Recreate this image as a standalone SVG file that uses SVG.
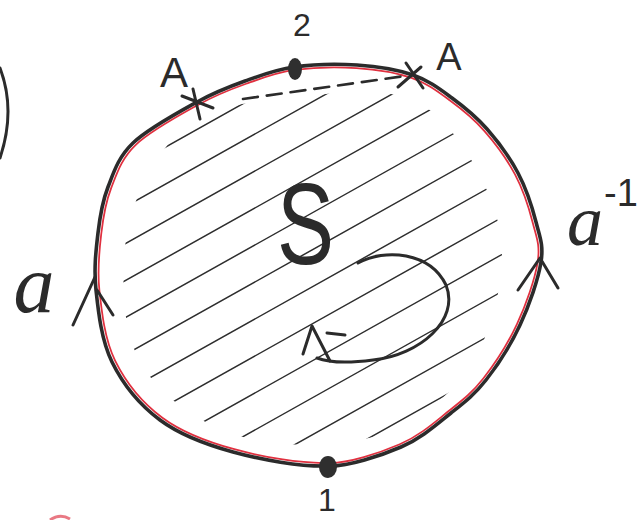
<svg xmlns="http://www.w3.org/2000/svg" width="638" height="520" viewBox="0 0 638 520">
<style>
.ink{fill:none;stroke:#2b2b2b;stroke-linecap:round;stroke-linejoin:round}
.bnd{stroke-width:3.6}
.red{fill:none;stroke:#e0303f;stroke-width:1.8;stroke-linecap:round}
.hatch{stroke:#2e2e2e;stroke-width:1.5;stroke-linecap:round}
.lbl{fill:#2b2b2b;font-family:"Liberation Sans",Arial,sans-serif}
.hand{fill:#2b2b2b;font-family:"Liberation Serif","Times New Roman",serif;font-style:italic}
.sup{font-family:"Liberation Sans",Arial,sans-serif;font-style:normal}
.dot{fill:#2f2f2f}
</style>
<defs>
<path id="loop" d="M328,466 C300,466.8 261,459.7 233,452 C205,444.3 180.2,435 160,420 C139.8,405 122.7,383.7 112,362 C101.3,340.3 98.3,311.5 96,290 C93.7,268.5 96,250.2 98,233 C100,215.8 102.2,202 108,187 C113.8,172 118.2,157.2 133,143 C147.8,128.8 178.3,112.3 197,102 C215.7,91.7 228.8,86.8 245,81 C261.2,75.2 275.3,69.7 294,67 C312.7,64.3 337.2,63.7 357,65 C376.8,66.3 397.2,69.5 413,75 C428.8,80.5 439.7,89 452,98 C464.3,107 476,116.5 487,129 C498,141.5 509.8,157.5 518,173 C526.2,188.5 532.2,207.2 536,222 C539.8,236.8 543.7,244.8 541,262 C538.3,279.2 529.2,305.3 520,325 C510.8,344.7 497.5,365.3 486,380 C474.5,394.7 465.2,401.8 451,413 C436.8,424.2 421.5,438.2 401,447 C380.5,455.8 348.5,466.8 328,466 Z"/>
<clipPath id="inner">
<path d="M172,140 C195,120 220,110 242,104 L360,90 C395,92 420,100 440,118 C465,145 490,185 500,230 C506,270 498,305 482,345 C465,385 430,412 390,432 C350,446 300,448 255,440 C210,430 170,405 145,370 C125,340 122,300 124,260 C126,215 145,170 172,140 Z"/>
</clipPath>
</defs>

<g id="region-S">
<g id="hatching" clip-path="url(#inner)">
<line class="hatch" x1="80" y1="195" x2="560" y2="-74"/>
<line class="hatch" x1="80" y1="232" x2="560" y2="-37"/>
<line class="hatch" x1="80" y1="269" x2="560" y2="0"/>
<line class="hatch" x1="80" y1="306" x2="560" y2="37"/>
<line class="hatch" x1="80" y1="343" x2="560" y2="74"/>
<line class="hatch" x1="80" y1="380" x2="560" y2="111"/>
<line class="hatch" x1="80" y1="417" x2="560" y2="148"/>
<line class="hatch" x1="80" y1="454" x2="560" y2="185"/>
<line class="hatch" x1="80" y1="491" x2="560" y2="222"/>
<line class="hatch" x1="80" y1="528" x2="560" y2="259"/>
<line class="hatch" x1="80" y1="565" x2="560" y2="296"/>
<line class="hatch" x1="80" y1="600" x2="560" y2="331"/>
</g>
<text class="lbl" x="277" y="264" font-size="115" textLength="57" lengthAdjust="spacingAndGlyphs">S</text>
<g id="rotation">
<path class="ink" stroke-width="3" d="M358,263 C385,248 430,252 446,285 C460,320 420,355 373,360 C350,363 330,363 317,358"/>
<path class="ink" stroke-width="3" d="M303,354 L312,326 L330,361 M327,333 L345,335"/>
</g>
</g>

<g id="connectors">
<use href="#loop" class="red" transform="translate(318,266) scale(0.985) translate(-318,-266)"/>
<use href="#loop" class="ink bnd"/>
<path class="ink" stroke-width="3" d="M73,325 L95,277 M97,290 L113,315"/>
<path class="ink" stroke-width="3" d="M518,290 L540,258 L558,288"/>
<path class="ink" stroke-width="2.6" stroke-dasharray="15 9" d="M243,99 L405,76"/>
</g>

<g id="node-1">
<ellipse class="dot" cx="328" cy="467" rx="9" ry="11"/>
<text class="lbl" x="327" y="511" font-size="32" text-anchor="middle">1</text>
</g>
<g id="node-2">
<ellipse class="dot" cx="295" cy="69" rx="7" ry="11"/>
<text class="lbl" x="302" y="36" font-size="32" text-anchor="middle">2</text>
</g>
<g id="node-A-left">
<path class="ink" stroke-width="3" d="M182,96 L213,108 M193,89 L200,119"/>
<text class="lbl" x="174" y="87" font-size="42" text-anchor="middle">A</text>
</g>
<g id="node-A-right">
<path class="ink" stroke-width="3" d="M398,87 L421,67 M406,63 L423,88"/>
<text class="lbl" x="449" y="70" font-size="38" text-anchor="middle">A</text>
</g>
<g id="label-a">
<text class="hand" x="34" y="312" font-size="82" text-anchor="middle">a</text>
</g>
<g id="label-a-inv">
<text class="hand" x="567" y="245" font-size="72">a<tspan class="sup" x="604" y="206" font-size="38">-1</tspan></text>
</g>
<g id="side-arc">
<path class="ink" stroke-width="3" d="M0,68 Q16,110 0,158"/>
</g>
<path d="M50,520 Q60,513 70,519" fill="none" stroke="#e04050" stroke-width="3" opacity="0.7"/>
</svg>
